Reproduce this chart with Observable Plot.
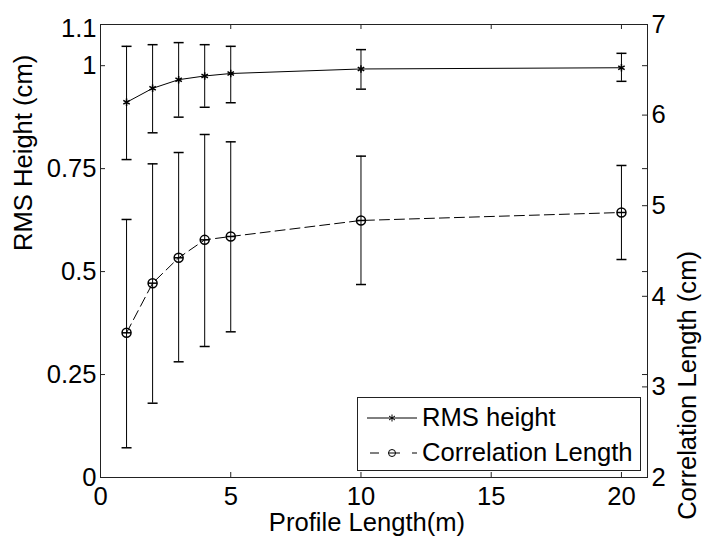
<!DOCTYPE html>
<html><head><meta charset="utf-8">
<script src="https://cdn.jsdelivr.net/npm/d3@7"></script>
<script src="https://cdn.jsdelivr.net/npm/@observablehq/plot@0.6"></script>
<style>
body{margin:0;background:#fff;}
#wrap{position:relative;width:707px;height:549px;font-family:"Liberation Sans",Arial,sans-serif;}
#legend{position:absolute;left:357px;top:397px;width:282px;height:72px;border:1px solid #222;background:#fff;}
#legend svg{display:block;}
</style></head><body><div id="wrap"></div>
<script>
// Data
const lengths  = [1, 2, 3, 4, 5, 10, 20];
const rmsMean  = [0.911, 0.945, 0.966, 0.975, 0.981, 0.992, 0.995];
const rmsLow   = [0.772, 0.837, 0.875, 0.899, 0.910, 0.943, 0.962];
const rmsHigh  = [1.047, 1.051, 1.056, 1.051, 1.047, 1.039, 1.030];
const corrMean = [3.597, 4.145, 4.425, 4.623, 4.660, 4.837, 4.925];
const corrLow  = [2.328, 2.820, 3.277, 3.446, 3.608, 4.130, 4.406];
const corrHigh = [4.848, 5.462, 5.587, 5.786, 5.705, 5.547, 5.444];
const xTicks = [0, 5, 10, 15, 20];
const leftTicks = [0, 0.25, 0.5, 0.75, 1];
const leftTopTick = [1.1];
const rightTicks = [2, 3, 4, 5, 6, 7];
const seriesNames = ["RMS height", "Correlation Length"];

const toLeft = d3.scaleLinear([2, 7], [0, 1.1]);
const rms = lengths.map((x, i) => ({x, y: rmsMean[i], lo: rmsLow[i], hi: rmsHigh[i]}));
const corr = lengths.map((x, i) => ({x, y: toLeft(corrMean[i]), lo: toLeft(corrLow[i]), hi: toLeft(corrHigh[i])}));

const hline = {draw(ctx, size) { const r = Math.sqrt(size / Math.PI); ctx.moveTo(-r, 0); ctx.lineTo(r, 0); }};

const W = 707, H = 549, mL = 100, mR = 60, mT = 24, mB = 72;
const fw = W - mL - mR, fh = H - mT - mB, tk = 5;
const ax = "#222";
const fmt = d => String(d);

const chart = Plot.plot({
  width: W, height: H, marginLeft: mL, marginRight: mR, marginTop: mT, marginBottom: mB,
  style: {fontFamily: "Liberation Sans, Arial, sans-serif", fontSize: "25.6px", color: "#000", background: "#fff", overflow: "visible"},
  x: {domain: [0, 21], axis: null},
  y: {domain: [0, 1.1], axis: null},
  marks: [
    Plot.frame({stroke: ax}),
    // inward ticks
    Plot.ruleY(leftTicks.concat(leftTopTick), {y: d => d, insetRight: fw - tk, stroke: ax}),
    Plot.ruleY(leftTicks.concat(leftTopTick), {y: d => d, insetLeft: fw - tk, stroke: ax}),
    Plot.ruleY(rightTicks.map(toLeft), {y: d => d, insetLeft: fw - tk, stroke: ax}),
    Plot.ruleX(xTicks, {x: d => d, insetTop: fh - tk, stroke: ax}),
    Plot.ruleX(xTicks, {x: d => d, insetBottom: fh - tk, stroke: ax}),
    // tick labels
    Plot.axisX(xTicks, {anchor: "bottom", tickSize: 0, tickPadding: 9, label: null, tickFormat: fmt}),
    Plot.axisY(leftTicks, {anchor: "left", tickSize: 0, tickPadding: 4, label: null, tickFormat: fmt}),
    Plot.axisY(leftTopTick, {anchor: "left", tickSize: 0, tickPadding: 4, dy: 4, label: null, tickFormat: fmt}),
    Plot.axisY(rightTicks.map(toLeft), {anchor: "right", tickSize: 0, tickPadding: 4, label: null,
      tickFormat: d => String(Math.round(toLeft.invert(d)))}),
    // axis titles
    Plot.text(["Profile Length(m)"], {text: d => d, frameAnchor: "bottom", lineAnchor: "middle", dy: 45, dx: -7}),
    Plot.text(["RMS Height (cm)"], {text: d => d, frameAnchor: "left", rotate: -90, lineAnchor: "middle", dx: -77}),
    Plot.text(["Correlation Length (cm)"], {text: d => d, frameAnchor: "right", rotate: -90, lineAnchor: "middle", dx: 40}),
    // RMS height series
    Plot.ruleX(rms, {x: "x", y1: "lo", y2: "hi", stroke: "#000"}),
    Plot.dot(rms, {x: "x", y: "lo", symbol: hline, r: 5, stroke: "#000", fill: "none"}),
    Plot.dot(rms, {x: "x", y: "hi", symbol: hline, r: 5, stroke: "#000", fill: "none"}),
    Plot.line(rms, {x: "x", y: "y", stroke: "#000", strokeWidth: 1}),
    Plot.dot(rms, {x: "x", y: "y", symbol: "asterisk", r: 3.5, stroke: "#000", fill: "none"}),
    // Correlation length series
    Plot.ruleX(corr, {x: "x", y1: "lo", y2: "hi", stroke: "#000"}),
    Plot.dot(corr, {x: "x", y: "lo", symbol: hline, r: 5, stroke: "#000", fill: "none"}),
    Plot.dot(corr, {x: "x", y: "hi", symbol: hline, r: 5, stroke: "#000", fill: "none"}),
    Plot.line(corr, {x: "x", y: "y", stroke: "#000", strokeWidth: 1, strokeDasharray: "10,5"}),
    Plot.dot(corr, {x: "x", y: "y", r: 4.5, stroke: "#000", fill: "none"}),
    Plot.dot(corr, {x: "x", y: "y", symbol: hline, r: 4.5, stroke: "#000", fill: "none"})
  ]
});

const wrap = document.getElementById("wrap");
wrap.appendChild(chart);

// Legend (inside plot, lower right, as in the reference)
const lg = document.createElement("div");
lg.id = "legend";
lg.innerHTML = `<svg width="282" height="72" font-family="Liberation Sans, Arial, sans-serif" font-size="25.6">
  <line x1="9" x2="59" y1="20" y2="20" stroke="#000"/>
  <path d="M34,16.5V23.5M31,18L37,22M31,22L37,18" stroke="#000" fill="none"/>
  <text x="64" y="28">${seriesNames[0]}</text>
  <line x1="12" x2="59" y1="55" y2="55" stroke="#000" stroke-dasharray="9,12"/>
  <circle cx="34" cy="55" r="3.5" stroke="#000" fill="#fff"/>
  <line x1="30.5" x2="37.5" y1="55" y2="55" stroke="#000"/>
  <text x="64" y="63">${seriesNames[1]}</text>
</svg>`;
wrap.appendChild(lg);
</script>
</body></html>
